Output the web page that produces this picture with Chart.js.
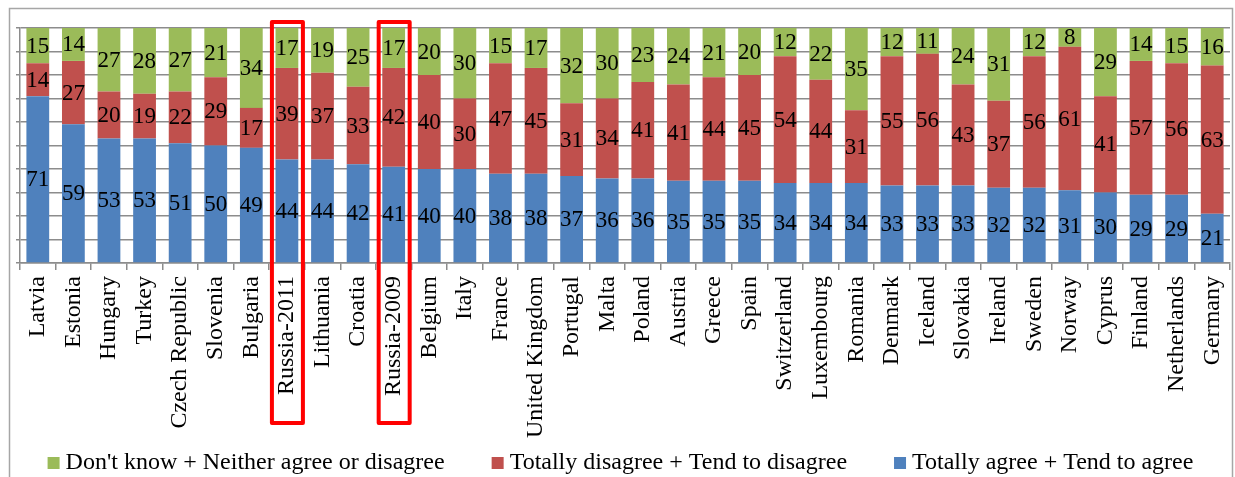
<!DOCTYPE html>
<html>
<head>
<meta charset="utf-8">
<script src="https://cdn.jsdelivr.net/npm/chart.js@4"></script>
<style>
  html, body { margin: 0; padding: 0; background: #fff; }
  #wrap { width: 1235px; height: 477px; }
</style>
</head>
<body>
<div id="wrap"><canvas id="myChart" width="1235" height="477"></canvas></div>
<script>
var countries = ['Latvia','Estonia','Hungary','Turkey','Czech Republic','Slovenia','Bulgaria','Russia-2011','Lithuania','Croatia','Russia-2009','Belgium','Italy','France','United Kingdom','Portugal','Malta','Poland','Austria','Greece','Spain','Switzerland','Luxembourg','Romania','Denmark','Iceland','Slovakia','Ireland','Sweden','Norway','Cyprus','Finland','Netherlands','Germany'];
var agree    = [71,59,53,53,51,50,49,44,44,42,41,40,40,38,38,37,36,36,35,35,35,34,34,34,33,33,33,32,32,31,30,29,29,21];
var disagree = [14,27,20,19,22,29,17,39,37,33,42,40,30,47,45,31,34,41,41,44,45,54,44,31,55,56,43,37,56,61,41,57,56,63];
var dontKnow = [15,14,27,28,27,21,34,17,19,25,17,20,30,15,17,32,30,23,24,21,20,12,22,35,12,11,24,31,12,8,29,14,15,16];
var highlighted = ['Russia-2011','Russia-2009'];

var serif = '"Liberation Serif", "Times New Roman", serif';

// numbers in the middle of each segment
var valueLabels = {
  id: 'valueLabels',
  afterDatasetsDraw: function(chart) {
    var ctx = chart.ctx;
    ctx.save();
    ctx.font = '23px ' + serif;
    ctx.fillStyle = '#000';
    ctx.textAlign = 'center';
    ctx.textBaseline = 'middle';
    chart.data.datasets.forEach(function(ds, i) {
      var meta = chart.getDatasetMeta(i);
      meta.data.forEach(function(bar, j) {
        ctx.fillText(ds.data[j], bar.x, (bar.y + bar.base) / 2 + 1);
      });
    });
    ctx.restore();
  }
};

// legend row (green, red, blue), outer frame, red boxes round the Russia bars
var extras = {
  id: 'extras',
  afterDraw: function(chart) {
    var ctx = chart.ctx;
    var x = chart.scales.x;
    ctx.save();
    ctx.strokeStyle = '#a6a6a6';
    ctx.lineWidth = 1.5;
    ctx.strokeRect(9.5, 8.5, 1223, 520);

    ctx.font = '24px ' + serif;
    ctx.textBaseline = 'middle';
    ctx.textAlign = 'left';
    var items = chart.data.datasets.slice().reverse();
    var box = 12, gapBox = 6, gapItem = 47;
    var total = 0;
    items.forEach(function(ds, k) {
      total += box + gapBox + ctx.measureText(ds.label).width + (k < items.length - 1 ? gapItem : 0);
    });
    var lx = (chart.width - total) / 2 + 3, ly = 463;
    items.forEach(function(ds) {
      ctx.fillStyle = ds.backgroundColor;
      ctx.fillRect(lx, ly - 6, box, box);
      ctx.fillStyle = '#000';
      ctx.fillText(ds.label, lx + box + gapBox, ly);
      lx += box + gapBox + ctx.measureText(ds.label).width + gapItem;
    });

    ctx.strokeStyle = '#ff0000';
    ctx.lineWidth = 4;
    ctx.lineJoin = 'round';
    highlighted.forEach(function(name) {
      var cx = x.getPixelForValue(countries.indexOf(name));
      ctx.strokeRect(cx - 15, 22, 31, 401);
    });
    ctx.restore();
  }
};

var ctx = document.getElementById('myChart').getContext('2d');
var chart = new Chart(ctx, {
  type: 'bar',
  data: {
    labels: countries,
    datasets: [
      { label: 'Totally agree + Tend to agree', data: agree, backgroundColor: '#4f81bd' },
      { label: 'Totally disagree + Tend to disagree', data: disagree, backgroundColor: '#c0504d' },
      { label: "Don't know + Neither agree or disagree", data: dontKnow, backgroundColor: '#9bbb59' }
    ]
  },
  options: {
    responsive: false,
    animation: false,
    datasets: { bar: { categoryPercentage: 0.64, barPercentage: 1 } },
    layout: { padding: { left: 16, top: 28, right: 5, bottom: 0 } },
    plugins: {
      tooltip: { enabled: false },
      legend: { display: false }
    },
    scales: {
      x: {
        stacked: true,
        afterFit: function(s) { s.height = 214; s.paddingLeft = 0; s.paddingRight = 0; },
        grid: { drawOnChartArea: false, drawTicks: true, tickLength: 7, color: '#8c8c8c', lineWidth: 1.5 },
        border: { color: '#8c8c8c', width: 1.5 },
        ticks: { minRotation: 90, maxRotation: 90, autoSkip: false, padding: 6, color: '#000', font: { family: serif, size: 24 } }
      },
      y: {
        stacked: true,
        min: 0,
        max: 100,
        ticks: { stepSize: 10, display: false },
        grid: { color: '#8c8c8c', lineWidth: 1.5, tickLength: 4 },
        border: { color: '#8c8c8c', width: 1.5 }
      }
    }
  },
  plugins: [valueLabels, extras]
});
</script>
</body>
</html>
